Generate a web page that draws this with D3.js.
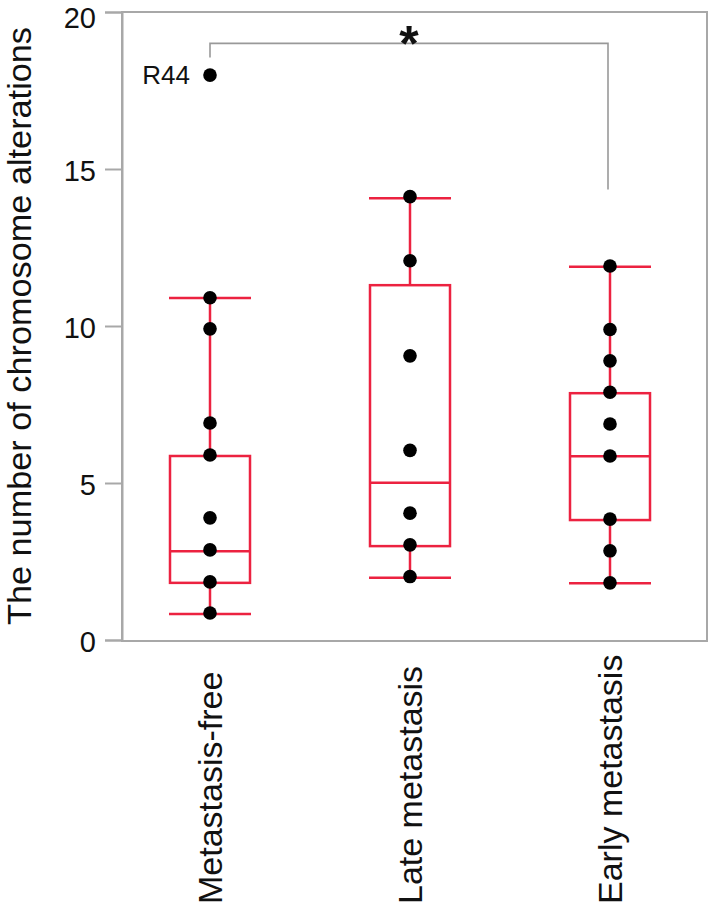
<!DOCTYPE html>
<html>
<head>
<meta charset="utf-8">
<script src="https://cdn.jsdelivr.net/npm/d3@7"></script>
<style>
  html, body { margin: 0; padding: 0; background: #fff; }
  svg { display: block; }
  text { font-family: "Liberation Sans", Arial, Helvetica, sans-serif; }
</style>
</head>
<body>
<svg id="chart" width="709" height="914"></svg>
<script>
// ---- data ----
const categories = ["Metastasis-free", "Late metastasis", "Early metastasis"];
const pointsMetastasisFree = [17.99, 10.9, 9.91, 6.91, 5.89, 3.89, 2.87, 1.85, 0.86];
const pointsLate = [14.12, 12.08, 9.05, 6.04, 4.04, 3.03, 2.02];
const pointsEarly = [11.91, 9.89, 8.89, 7.89, 6.88, 5.86, 3.85, 2.84, 1.82];
const whiskerLow = [0.83, 1.98, 1.81];
const q1 = [1.82, 2.99, 3.82];
const median = [2.83, 5.01, 5.85];
const q3 = [5.86, 11.3, 7.86];
const whiskerHigh = [10.89, 14.07, 11.89];
const yTicks = [0, 5, 10, 15, 20];
const outlierLabel = { group: "Metastasis-free", value: 17.99, text: "R44" };
const bracket = { from: "Metastasis-free", to: "Early metastasis", top: 19.0, leftEnd: 18.55, rightEnd: 14.35, label: "*" };
const yTitle = "The number of chromosome alterations";

const pointSets = [pointsMetastasisFree, pointsLate, pointsEarly];

// ---- layout ----
const frame = { left: 122, top: 12, right: 707, bottom: 641 };
const red = "#ec2240";
const grey = "#a8a8a8";

const svg = d3.select("#chart");

const y = d3.scaleLinear().domain([0, 20]).range([640, 12]);
const x = d3.scaleBand().domain(categories).range([110, 710]).padding(0);
const cx = c => x(c) + x.bandwidth() / 2;
const boxW = 80, capW = 82;

// frame
svg.append("rect")
  .attr("x", frame.left).attr("y", frame.top)
  .attr("width", frame.right - frame.left).attr("height", frame.bottom - frame.top)
  .attr("fill", "none").attr("stroke", grey).attr("stroke-width", 2);

// y axis
const yAxis = svg.append("g")
  .attr("transform", `translate(${frame.left},0)`)
  .call(d3.axisLeft(y).tickValues(yTicks).tickSize(17).tickPadding(9).tickFormat(d3.format("d")));
yAxis.select(".domain").attr("stroke", grey).attr("stroke-width", 2);
yAxis.selectAll(".tick line").attr("stroke", grey).attr("stroke-width", 2);
yAxis.selectAll(".tick text")
  .attr("font-size", 29).attr("fill", "#111")
  .attr("dy", d => d === 20 ? "0.52em" : "0.4em")
  .attr("font-family", "'Liberation Sans', Arial, sans-serif");

// y title
svg.append("text")
  .attr("transform", `translate(31,326) rotate(-90)`)
  .attr("text-anchor", "middle")
  .attr("font-size", 34)
  .attr("fill", "#111")
  .attr("textLength", 598)
  .attr("lengthAdjust", "spacingAndGlyphs")
  .text(yTitle);

// x labels
svg.selectAll(".xlab").data(categories).join("text")
  .attr("class", "xlab")
  .attr("transform", d => `translate(${cx(d) + 12},904) rotate(-90)`)
  .attr("text-anchor", "start")
  .attr("font-size", 34)
  .attr("fill", "#111")
  .text(d => d);

// boxes
const g = svg.append("g");
categories.forEach((c, i) => {
  const xc = cx(c);
  const grp = g.append("g");
  grp.append("line").attr("x1", xc).attr("x2", xc)
    .attr("y1", y(q3[i])).attr("y2", y(whiskerHigh[i]))
    .attr("stroke", red).attr("stroke-width", 2.5);
  grp.append("line").attr("x1", xc).attr("x2", xc)
    .attr("y1", y(q1[i])).attr("y2", y(whiskerLow[i]))
    .attr("stroke", red).attr("stroke-width", 2.5);
  [whiskerLow[i], whiskerHigh[i]].forEach(v => {
    grp.append("line").attr("x1", xc - capW / 2).attr("x2", xc + capW / 2)
      .attr("y1", y(v)).attr("y2", y(v))
      .attr("stroke", red).attr("stroke-width", 2.5);
  });
  grp.append("rect")
    .attr("x", xc - boxW / 2).attr("width", boxW)
    .attr("y", y(q3[i])).attr("height", y(q1[i]) - y(q3[i]))
    .attr("fill", "none").attr("stroke", red).attr("stroke-width", 2.5);
  grp.append("line").attr("x1", xc - boxW / 2).attr("x2", xc + boxW / 2)
    .attr("y1", y(median[i])).attr("y2", y(median[i]))
    .attr("stroke", red).attr("stroke-width", 2.5);
});

// points
categories.forEach((c, i) => {
  g.selectAll(null).data(pointSets[i]).join("circle")
    .attr("cx", cx(c)).attr("cy", d => y(d))
    .attr("r", 6.8).attr("fill", "#000");
});

// outlier label
svg.append("text")
  .attr("x", cx(outlierLabel.group) - 20).attr("y", y(outlierLabel.value))
  .attr("dy", "0.36em")
  .attr("text-anchor", "end")
  .attr("font-size", 26).attr("fill", "#111")
  .text(outlierLabel.text);

// significance bracket
const bx1 = cx(bracket.from), bx2 = cx(bracket.to) - 2;
svg.append("path")
  .attr("d", `M${bx1},${y(bracket.leftEnd)}V${y(bracket.top)}H${bx2}V${y(bracket.rightEnd)}`)
  .attr("fill", "none").attr("stroke", "#999").attr("stroke-width", 1.6);
svg.append("text")
  .attr("x", (bx1 + bx2) / 2).attr("y", 61)
  .attr("text-anchor", "middle")
  .attr("font-size", 50).attr("font-weight", "bold").attr("fill", "#111")
  .text(bracket.label);
</script>
</body>
</html>
